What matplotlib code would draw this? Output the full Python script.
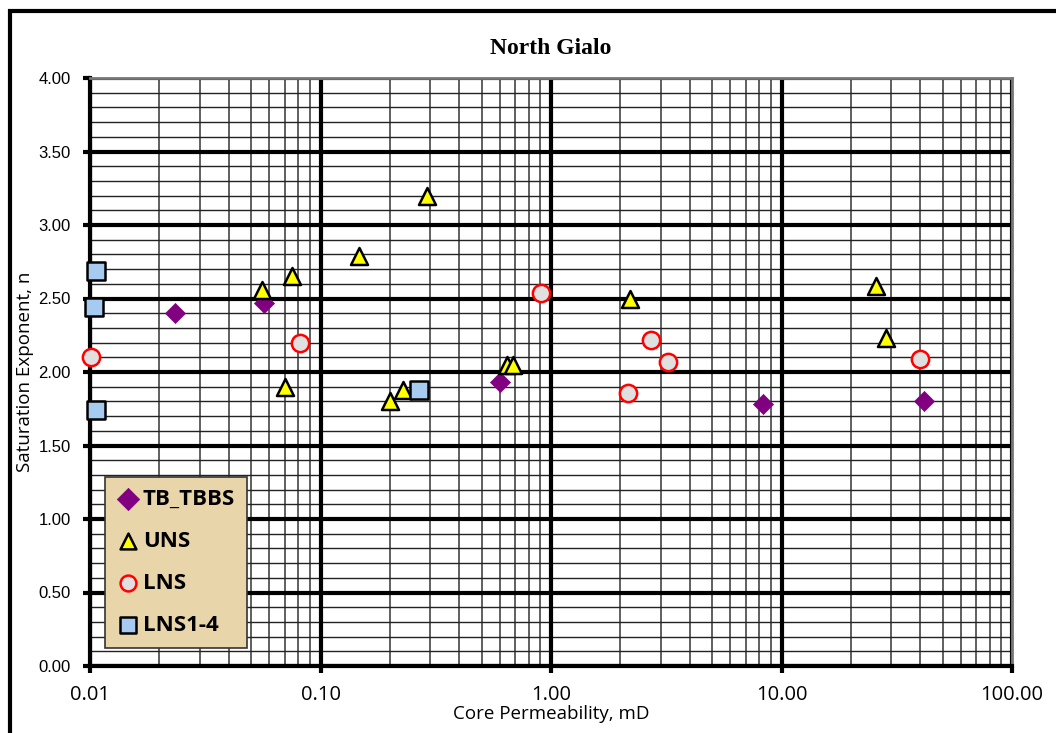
import matplotlib
matplotlib.use("Agg")
import matplotlib.pyplot as plt
from matplotlib.patches import Rectangle
from matplotlib.ticker import FixedLocator, NullFormatter, NullLocator

# ---- data ----
tb_k = [0.0234, 0.0569, 0.601, 8.31, 41.5]
tb_n = [2.40, 2.47, 1.93, 1.78, 1.80]

uns_k = [0.0557, 0.0752, 0.0702, 0.147, 0.290, 0.200, 0.228, 0.644, 0.684, 2.20, 25.7, 28.4]
uns_n = [2.56, 2.65, 1.90, 2.79, 3.20, 1.80, 1.88, 2.05, 2.05, 2.50, 2.585, 2.23]

lns_k = [0.0101, 0.0815, 0.906, 2.16, 2.72, 3.22, 39.9]
lns_n = [2.10, 2.20, 2.54, 1.86, 2.22, 2.07, 2.09]

lns14_k = [0.0106, 0.0104, 0.0106, 0.267]
lns14_n = [2.69, 2.44, 1.74, 1.88]

x_ticks = [0.01, 0.1, 1, 10, 100]
x_tick_labels = ["0.01", "0.10", "1.00", "10.00", "100.00"]
y_ticks = [0, 0.5, 1.0, 1.5, 2.0, 2.5, 3.0, 3.5, 4.0]
y_tick_labels = ["%.2f" % v for v in y_ticks]

W, H = 1056, 733
fig = plt.figure(figsize=(W / 100, H / 100), dpi=100)
fig.patch.set_facecolor("white")

# outer chart border (cut by the image edge on right/bottom)
fig.patches.append(Rectangle((10 / W, -20 / H), 1.2, (H - 11 + 20) / H,
                             transform=fig.transFigure, fill=False,
                             edgecolor="black", linewidth=3.0))

ax = fig.add_axes([90 / W, 67 / H, 922 / W, 588 / H])
ax.set_xscale("log")
ax.set_xlim(0.01, 100)
ax.set_ylim(0, 4)

# grid
minor_x = [m * 10.0 ** e for e in range(-2, 2) for m in range(2, 10)]
for v in minor_x:
    ax.axvline(v, color="#444444", lw=1.2, zorder=1)
for i in range(41):
    y = i * 0.1
    if i % 5 != 0:
        ax.axhline(y, color="#222222", lw=1.0, zorder=1)
for v in x_ticks:
    ax.axvline(v, color="black", lw=3.0, zorder=2)
for v in y_ticks:
    ax.axhline(v, color="black", lw=3.0, zorder=2)

ax.xaxis.set_major_locator(FixedLocator(x_ticks))
ax.set_xticklabels(x_tick_labels)
ax.xaxis.set_minor_locator(NullLocator())
ax.xaxis.set_minor_formatter(NullFormatter())
ax.set_yticks(y_ticks)
ax.set_yticklabels(y_tick_labels)

ax.tick_params(axis="x", direction="out", length=5, width=3, pad=9, labelsize=14.5)
ax.tick_params(axis="y", direction="out", length=5, width=3, pad=9, labelsize=12)
for lab in ax.get_xticklabels():
    lab.set_fontfamily("Open Sans")
    lab.set_fontsize(14.5)
for lab in ax.get_yticklabels():
    lab.set_fontfamily("Liberation Sans")
    lab.set_fontsize(12)

for s in ["left", "bottom"]:
    ax.spines[s].set_linewidth(3)
    ax.spines[s].set_color("black")
for s in ["top", "right"]:
    ax.spines[s].set_linewidth(2)
    ax.spines[s].set_color("#777777")

ax.set_xlabel("Core Permeability, mD", fontsize=13.5, family="Open Sans", labelpad=0)
ax.set_ylabel("Saturation Exponent, n", fontsize=13.5, family="Open Sans", labelpad=3)
ax.set_title("North Gialo", fontsize=17, family="Liberation Serif", fontweight="bold", pad=17)

ax.scatter(tb_k, tb_n, marker="D", s=105, color="#800080", edgecolors="#800080",
           linewidths=0.5, zorder=5, label="TB_TBBS", clip_on=False)
ax.scatter(uns_k, uns_n, marker="^", s=150, color="#FFFF00", edgecolors="black",
           linewidths=1.8, zorder=5, label="UNS", clip_on=False)
ax.scatter(lns_k, lns_n, marker="o", s=155, color="#E0E0E0", edgecolors="#FF0000",
           linewidths=1.8, zorder=5, label="LNS", clip_on=False)
ax.scatter(lns14_k, lns14_n, marker="s", s=150, color="#A6CAF0", edgecolors="black",
           linewidths=1.8, zorder=5, label="LNS1-4", clip_on=False)

leg = ax.legend(loc="lower left", bbox_to_anchor=(15 / 922, 18 / 588),
                frameon=True, fancybox=False, borderpad=0.55, labelspacing=0.94,
                handletextpad=0.15, handlelength=1.0, borderaxespad=0,
                prop={"family": "Open Sans", "weight": "bold", "size": 16})
leg.get_frame().set_facecolor("#E9D5AA")
leg.get_frame().set_edgecolor("#333333")
leg.get_frame().set_linewidth(1.2)
leg.get_frame().set_alpha(1.0)
leg.set_zorder(10)
for h in leg.legend_handles:
    h.set_sizes([130])

fig.savefig("out.png", dpi=100)
